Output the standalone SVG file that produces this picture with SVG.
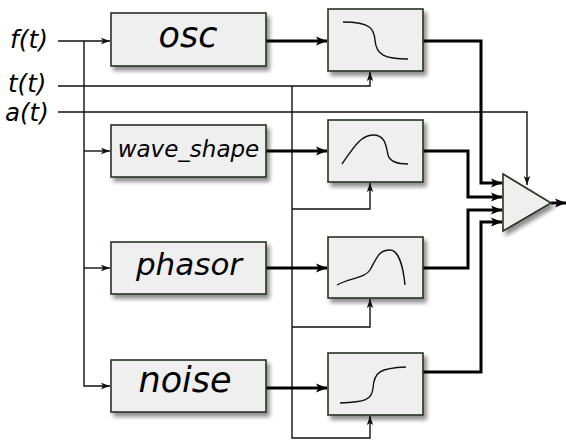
<svg xmlns="http://www.w3.org/2000/svg" width="566" height="440" viewBox="0 0 566 440">
<style>
.box{fill:#efefef;stroke:#263326;stroke-width:1.6;filter:url(#sh)}
.lbl{font-family:"DejaVu Sans",sans-serif;font-style:oblique;fill:#000}
.thin{fill:none;stroke:#111;stroke-width:1.4}
.thick{fill:none;stroke:#000;stroke-width:3}
.curve{fill:none;stroke:#111;stroke-width:1.4}
</style>
<defs>
<filter id="sh" x="-20%" y="-20%" width="150%" height="150%">
<feGaussianBlur in="SourceAlpha" stdDeviation="2"/>
<feOffset dx="3" dy="4" result="b"/>
<feComponentTransfer><feFuncA type="linear" slope="0.45"/></feComponentTransfer>
<feMerge><feMergeNode/><feMergeNode in="SourceGraphic"/></feMerge>
</filter>
<marker id="at" markerUnits="userSpaceOnUse" markerWidth="10" markerHeight="8" refX="9" refY="4" orient="auto">
<path d="M0,0.8 L9,4 L0,7.2 L2,4 z" fill="#111"/>
</marker>
<marker id="ak" markerUnits="userSpaceOnUse" markerWidth="12" markerHeight="10" refX="11" refY="5" orient="auto">
<path d="M0,0.5 L11,5 L0,9.5 L2.5,5 z" fill="#000"/>
</marker>
</defs>

<g id="labels">
<text class="lbl" x="10" y="48" font-size="25">f(t)</text>
<text class="lbl" x="8" y="92" font-size="24.5">t(t)</text>
<text class="lbl" x="5" y="121" font-size="24.5">a(t)</text>
</g>

<g id="connectors">
<path class="thin" d="M58,41 H110" marker-end="url(#at)"/>
<path class="thin" d="M84,41 V386 H110" marker-end="url(#at)"/>
<path class="thin" d="M84,151 H110" marker-end="url(#at)"/>
<path class="thin" d="M84,268 H110" marker-end="url(#at)"/>
<path class="thin" d="M58,86 H370 V72" marker-end="url(#at)"/>
<path class="thin" d="M292,86 V438 H370 V416" marker-end="url(#at)"/>
<path class="thin" d="M292,209 H370 V183" marker-end="url(#at)"/>
<path class="thin" d="M292,327 H370 V299" marker-end="url(#at)"/>
<path class="thin" d="M58,112 H527 V185" marker-end="url(#at)"/>
<path class="thick" d="M266,41 H327" marker-end="url(#ak)"/>
<path class="thick" d="M266,151 H327" marker-end="url(#ak)"/>
<path class="thick" d="M266,268 H327" marker-end="url(#ak)"/>
<path class="thick" d="M266,388 H327" marker-end="url(#ak)"/>
<path class="thick" d="M423,41 H481 V183 H502" marker-end="url(#ak)"/>
<path class="thick" d="M423,151 H468 V197 H502" marker-end="url(#ak)"/>
<path class="thick" d="M423,268 H468 V210 H502" marker-end="url(#ak)"/>
<path class="thick" d="M423,372 H481 V222 H502" marker-end="url(#ak)"/>
<path class="thick" d="M551,203 H566" marker-end="url(#ak)"/>
</g>

<g id="osc">
<rect class="box" x="111" y="13" width="155" height="53"/>
<text class="lbl" x="188" y="47" font-size="35" text-anchor="middle">osc</text>
</g>
<g id="wave_shape">
<rect class="box" x="111" y="125" width="155" height="52"/>
<text class="lbl" x="188.5" y="157" font-size="23" text-anchor="middle">wave_shape</text>
</g>
<g id="phasor">
<rect class="box" x="111" y="242" width="155" height="52"/>
<text class="lbl" x="189" y="275" font-size="31" text-anchor="middle">phasor</text>
</g>
<g id="noise">
<rect class="box" x="111" y="360" width="155" height="52"/>
<text class="lbl" x="185" y="392" font-size="35" text-anchor="middle">noise</text>
</g>

<g id="filter1">
<rect class="box" x="328" y="9" width="95" height="62"/>
<path class="curve" d="M343,22 C372,22 374,30 375,40 C376,55 385,59 408,59"/>
</g>
<g id="filter2">
<rect class="box" x="328" y="120" width="95" height="62"/>
<path class="curve" d="M342,164 C352,150 360,135 373,135 C385,135 386,145 388,155 C390,162 398,164 408,164"/>
</g>
<g id="filter3">
<rect class="box" x="328" y="237" width="95" height="61"/>
<path class="curve" d="M337,285 C350,278 365,278 370,270 C378,255 380,250 390,250 C398,250 403,265 405,285"/>
</g>
<g id="filter4">
<rect class="box" x="328" y="353" width="95" height="62"/>
<path class="curve" d="M340,403 C365,402 372,400 373,388 C374,372 380,368 406,367"/>
</g>

<g id="amplifier">
<path class="box" d="M503,174 L551,203 L503,231 Z"/>
</g>
</svg>
